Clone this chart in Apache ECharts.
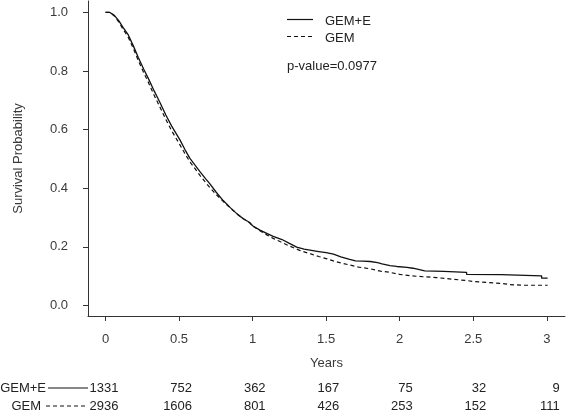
<!DOCTYPE html>
<html><head><meta charset="utf-8">
<script src="https://cdn.jsdelivr.net/npm/echarts@6/dist/echarts.min.js"></script>
<style>html,body{margin:0;padding:0;background:#fff}#c{width:567px;height:416px}</style>
</head><body><div id="c"></div>
<script>
// ---- data ----
const xTicks = [0, 0.5, 1, 1.5, 2, 2.5, 3];
const xTickLabels = ['0', '0.5', '1', '1.5', '2', '2.5', '3'];
const yTicks = [0, 0.2, 0.4, 0.6, 0.8, 1.0];
const yTickLabels = ['0.0', '0.2', '0.4', '0.6', '0.8', '1.0'];
const seriesNames = ['GEM+E', 'GEM'];

const timeGemE = [0, 0.03, 0.06, 0.09, 0.12, 0.155, 0.19, 0.223, 0.26, 0.291, 0.33, 0.371, 0.41, 0.45, 0.506, 0.54, 0.574, 0.61, 0.642, 0.68, 0.71, 0.75, 0.80, 0.85, 0.90, 0.937, 0.98, 1.0, 1.05, 1.10, 1.14, 1.20, 1.25, 1.30, 1.35, 1.40, 1.45, 1.50, 1.55, 1.60, 1.66, 1.70, 1.75, 1.80, 1.85, 1.88, 1.934, 1.98, 2.05, 2.09, 2.12, 2.17, 2.30, 2.455, 2.455, 2.69, 2.70, 2.965, 2.965, 3.006];
const survGemE = [1.0, 1.0, 0.99, 0.972, 0.948, 0.923, 0.885, 0.846, 0.806, 0.775, 0.733, 0.692, 0.650, 0.612, 0.565, 0.532, 0.502, 0.478, 0.457, 0.433, 0.415, 0.388, 0.358, 0.333, 0.310, 0.296, 0.283, 0.272, 0.257, 0.245, 0.236, 0.225, 0.212, 0.199, 0.192, 0.188, 0.184, 0.180, 0.175, 0.166, 0.157, 0.152, 0.151, 0.150, 0.146, 0.142, 0.136, 0.133, 0.130, 0.127, 0.124, 0.118, 0.116, 0.113, 0.106, 0.105, 0.101, 0.101, 0.093, 0.093];

const timeGem = [0, 0.03, 0.06, 0.09, 0.12, 0.155, 0.19, 0.223, 0.26, 0.291, 0.33, 0.371, 0.41, 0.45, 0.506, 0.54, 0.574, 0.61, 0.642, 0.68, 0.71, 0.75, 0.80, 0.85, 0.90, 0.937, 0.98, 1.0, 1.05, 1.10, 1.14, 1.186, 1.25, 1.32, 1.40, 1.45, 1.50, 1.55, 1.60, 1.66, 1.72, 1.80, 1.87, 1.934, 2.0, 2.08, 2.16, 2.25, 2.35, 2.455, 2.5, 2.6, 2.70, 2.75, 2.84, 3.006];
const survGem = [1.0, 1.0, 0.988, 0.968, 0.942, 0.915, 0.876, 0.836, 0.794, 0.762, 0.718, 0.676, 0.635, 0.596, 0.548, 0.518, 0.490, 0.466, 0.444, 0.420, 0.402, 0.380, 0.355, 0.332, 0.310, 0.296, 0.282, 0.271, 0.255, 0.240, 0.229, 0.218, 0.203, 0.188, 0.175, 0.167, 0.160, 0.152, 0.145, 0.138, 0.131, 0.125, 0.117, 0.113, 0.106, 0.101, 0.098, 0.095, 0.090, 0.085, 0.082, 0.078, 0.075, 0.071, 0.069, 0.069];

const riskGemE = [1331, 752, 362, 167, 75, 32, 9];
const riskGem = [2936, 1606, 801, 426, 253, 152, 111];
const pValueText = 'p-value=0.0977';
const xAxisTitle = 'Years';
const yAxisTitle = 'Survival Probability';

// ---- chart ----
const FONT = '"Liberation Sans", Arial, sans-serif';
const AX = '#333';
const TXT = '#3a3a3a';
const chart = echarts.init(document.getElementById('c'), null, {renderer: 'canvas'});

function zip(t, s) { return t.map((v, i) => [v, s[i]]); }

chart.setOption({
  animation: false,
  backgroundColor: '#fff',
  grid: {left: 88, right: 2, top: 1, bottom: 100},
  xAxis: {
    type: 'value', min: -0.119, max: 3.124,
    splitLine: {show: false},
    axisLine: {show: true, onZero: false, lineStyle: {color: AX, width: 1}},
    axisTick: {show: true, customValues: xTicks, length: 5, lineStyle: {color: AX, width: 1}},
    axisLabel: {customValues: xTicks, margin: 17, color: TXT, fontSize: 13, fontFamily: FONT,
      formatter: v => { const i = xTicks.findIndex(t => Math.abs(t - v) < 1e-9); return i >= 0 ? xTickLabels[i] : ''; }},
    name: xAxisTitle, nameLocation: 'middle', nameGap: 41,
    nameTextStyle: {color: TXT, fontSize: 13, fontFamily: FONT}
  },
  yAxis: {
    type: 'value', min: -0.036, max: 1.039,
    splitLine: {show: false},
    axisLine: {show: true, onZero: false, lineStyle: {color: AX, width: 1}},
    axisTick: {show: true, customValues: yTicks, length: 5, lineStyle: {color: AX, width: 1}},
    axisLabel: {customValues: yTicks, margin: 20, color: TXT, fontSize: 13, fontFamily: FONT,
      formatter: v => { const i = yTicks.findIndex(t => Math.abs(t - v) < 1e-9); return i >= 0 ? yTickLabels[i] : ''; }},
    name: yAxisTitle, nameLocation: 'middle', nameGap: 63,
    nameTextStyle: {color: TXT, fontSize: 13, fontFamily: FONT}
  },
  series: [
    {name: seriesNames[0], type: 'line', data: zip(timeGemE, survGemE), showSymbol: false, symbol: 'none',
     lineStyle: {color: '#111', width: 1.3}, z: 3},
    {name: seriesNames[1], type: 'line', data: zip(timeGem, survGem), showSymbol: false, symbol: 'none',
     lineStyle: {color: '#111', width: 1.2, type: [4, 3]}, z: 2}
  ]
});

// legend, p-value and numbers-at-risk table (text positions from the x scale)
const g = [];
const tf = '13px ' + FONT;
g.push({type: 'line', shape: {x1: 287, y1: 19.5, x2: 313, y2: 19.5}, style: {stroke: '#111', lineWidth: 1.2}});
g.push({type: 'line', shape: {x1: 287, y1: 36.5, x2: 313, y2: 36.5}, style: {stroke: '#111', lineWidth: 1.2, lineDash: [4, 3]}});
g.push({type: 'text', style: {text: seriesNames[0], x: 325, y: 21, font: tf, fill: '#222', align: 'left', verticalAlign: 'middle'}});
g.push({type: 'text', style: {text: seriesNames[1], x: 325, y: 38, font: tf, fill: '#222', align: 'left', verticalAlign: 'middle'}});
g.push({type: 'text', style: {text: pValueText, x: 287, y: 66, font: tf, fill: '#222', align: 'left', verticalAlign: 'middle'}});

const rowY = [388, 406];
g.push({type: 'text', style: {text: seriesNames[0], x: 46, y: rowY[0], font: tf, fill: '#222', align: 'right', verticalAlign: 'middle'}});
g.push({type: 'text', style: {text: seriesNames[1], x: 41, y: rowY[1], font: tf, fill: '#222', align: 'right', verticalAlign: 'middle'}});
g.push({type: 'line', shape: {x1: 48, y1: rowY[0], x2: 88, y2: rowY[0]}, style: {stroke: '#111', lineWidth: 1}});
g.push({type: 'line', shape: {x1: 46, y1: rowY[1], x2: 88, y2: rowY[1]}, style: {stroke: '#111', lineWidth: 1, lineDash: [4, 3]}});
xTicks.forEach((t, i) => {
  const px = chart.convertToPixel({xAxisIndex: 0}, t) + 13;
  g.push({type: 'text', style: {text: String(riskGemE[i]), x: px, y: rowY[0], font: tf, fill: '#222', align: 'right', verticalAlign: 'middle'}});
  g.push({type: 'text', style: {text: String(riskGem[i]), x: px, y: rowY[1], font: tf, fill: '#222', align: 'right', verticalAlign: 'middle'}});
});
chart.setOption({graphic: g});
</script>
</body></html>
